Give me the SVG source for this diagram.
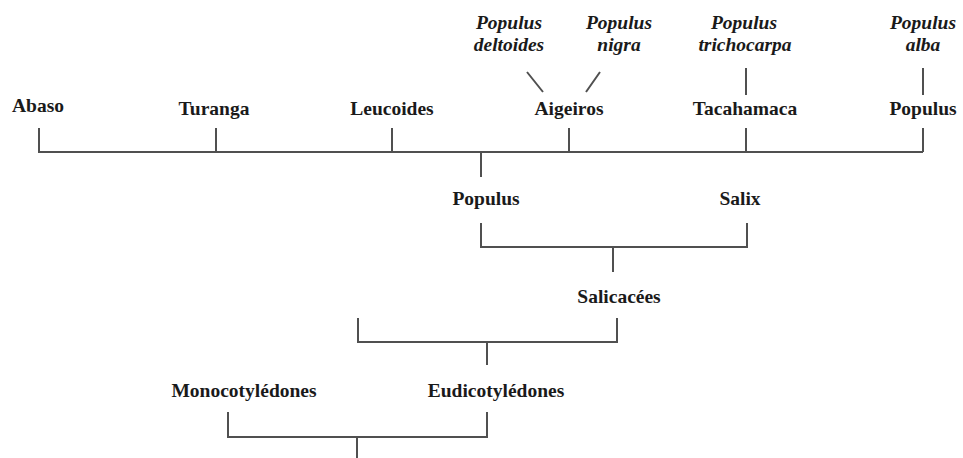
<svg xmlns="http://www.w3.org/2000/svg" width="963" height="458" viewBox="0 0 963 458">
<style>
text{font-family:"Liberation Serif","Times New Roman",serif;font-weight:bold;font-size:19.5px;fill:#1a1a1a;text-anchor:middle}
.it{font-style:italic}
.ln{stroke:#505050;stroke-width:2;fill:none}
</style>
<rect width="963" height="458" fill="#fff"/>
<g id="connectors" class="ln">
<path d="M39,128V152H923M216,128V152M392,128V152M569,128V152M746,128V152M923,128V152"/>
<path d="M481,152V177"/>
<path d="M746,68V95M923,68V95M527,72L543,92M600,72L586,92"/>
<path d="M481,223V247H747V223M613,247V272"/>
<path d="M358,318V342H617V318M487,342V365"/>
<path d="M228,412V437H487V412M357,437V458"/>
</g>
<g id="n-abaso"><text x="38" y="112">Abaso</text></g>
<g id="n-turanga"><text x="214" y="115">Turanga</text></g>
<g id="n-leucoides"><text x="392" y="115">Leucoides</text></g>
<g id="n-aigeiros"><text x="569" y="115">Aigeiros</text></g>
<g id="n-tacahamaca"><text x="745" y="115">Tacahamaca</text></g>
<g id="n-populus-sect"><text x="923" y="115">Populus</text></g>
<g id="n-deltoides"><text class="it" x="509" y="29">Populus</text><text class="it" x="509" y="51">deltoides</text></g>
<g id="n-nigra"><text class="it" x="619" y="29">Populus</text><text class="it" x="619" y="51">nigra</text></g>
<g id="n-trichocarpa"><text class="it" x="744" y="29">Populus</text><text class="it" x="745" y="51">trichocarpa</text></g>
<g id="n-alba"><text class="it" x="923" y="29">Populus</text><text class="it" x="923" y="51">alba</text></g>
<g id="n-populus"><text x="486" y="205">Populus</text></g>
<g id="n-salix"><text x="740" y="205">Salix</text></g>
<g id="n-salicacees"><text x="619" y="303">Salicacées</text></g>
<g id="n-monocot"><text x="244" y="397">Monocotylédones</text></g>
<g id="n-eudicot"><text x="496" y="397">Eudicotylédones</text></g>
</svg>
